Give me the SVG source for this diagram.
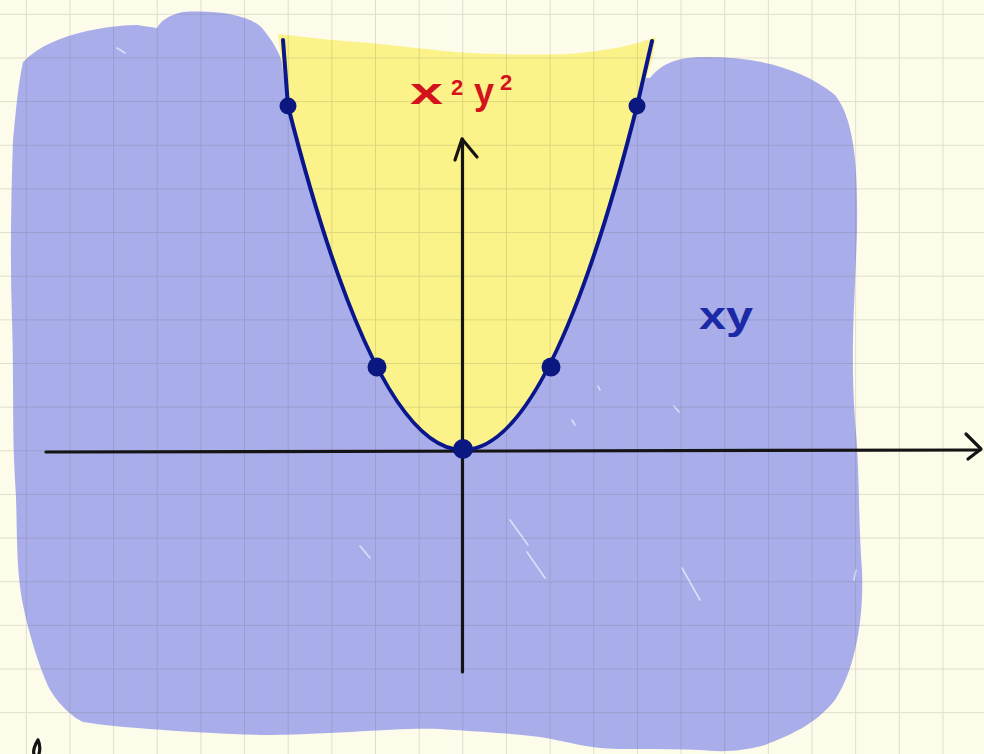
<svg xmlns="http://www.w3.org/2000/svg" width="984" height="754" viewBox="0 0 984 754">
<style>
.axis{fill:none;stroke:#141414;stroke-width:3.2;stroke-linecap:round;stroke-linejoin:round}
.curve{fill:none;stroke:#0a168c;stroke-width:4;stroke-linecap:round;stroke-linejoin:round}
.dot{fill:#0a1880}
.scratch{fill:none;stroke:#e9ebfb;stroke-width:1.6;stroke-linecap:round;opacity:0.8}
.hand{font-family:"Liberation Sans","DejaVu Sans",sans-serif;font-weight:bold}
.red{fill:#d4121c}
</style>
<defs>
<pattern id="grid" patternUnits="userSpaceOnUse" x="25.8" y="13.8" width="43.65" height="43.65">
<path d="M0,0 V43.65 M0,0 H43.65" fill="none" stroke="#4a4a3a" stroke-opacity="0.17" stroke-width="2"/>
</pattern>
</defs>
<rect width="984" height="754" fill="#fdfbea"/>
<g id="region-xy">
<path fill="#a9aeea" d="M23,62 C40,45 60,38 83,32 C100,28 120,25 137,25 L157,28 C160,22 168,15 183,12 C215,10 248,14 262,28 C272,40 278,50 282,62 L650,78 C660,66 672,58 700,57 C750,56 800,66 835,95 C855,120 858,170 857,230 C855,300 850,350 855,420 C860,470 858,520 862,570 C864,620 855,670 835,700 C815,725 790,735 765,745 C740,752 720,752 700,750 C660,748 620,750 600,748 C580,746 565,741 540,737 C510,733 480,732 440,729 C400,727 330,735 260,735 C200,733 120,728 83,722 C70,716 55,700 48,686 C40,667 30,640 22,600 C15,560 18,520 15,480 C12,430 14,380 12,320 C10,260 11,200 13,140 C16,110 18,85 23,62 Z"/>
<path class="scratch" d="M117,48 L125,53 M360,546 L370,558 M510,520 L528,545 M527,552 L545,578 M682,568 L700,600 M674,406 L679,412 M598,386 L600,390 M572,420 L575,425 M856,570 L854,580"/>
</g>
<g id="region-x2y2">
<path fill="#fbf389" d="M278,34 C310,38 340,41 370,43 C410,47 440,51 470,53 C520,55 560,55 580,53 C610,50 635,45 656,37 L652,60 L637,106 Q550,450 463,450 Q375.5,450 288,106 L280,50 Z"/>
</g>
<rect width="984" height="754" fill="url(#grid)"/>
<g id="axes">
<path class="axis" d="M46,452 L980,450"/>
<path class="axis" d="M966,434 L981,449 L968,459"/>
<path class="axis" d="M462.5,672 L462.5,139"/>
<path class="axis" d="M455,160 L462,139 L477,157"/>
</g>
<g id="parabola">
<path class="curve" d="M283,40 L288,106 Q375.5,450 463,450 Q550,450 637,106 L652,41"/>
</g>
<g id="points">
<circle class="dot" cx="288" cy="106" r="8.5"/>
<circle class="dot" cx="377" cy="367" r="9.5"/>
<circle class="dot" cx="551" cy="367" r="9.5"/>
<circle class="dot" cx="637" cy="106" r="8.5"/>
<circle class="dot" cx="463" cy="449" r="10"/>
</g>
<g id="labels">
<text class="hand red" x="410" y="104" font-size="36" textLength="33" lengthAdjust="spacingAndGlyphs">x</text>
<text class="hand red" x="451" y="95" font-size="22">2</text>
<text class="hand red" x="474" y="104" font-size="36">y</text>
<text class="hand red" x="500" y="90" font-size="22">2</text>
<text class="hand" x="699" y="329" fill="#1a2aa6" font-size="38" textLength="54" lengthAdjust="spacingAndGlyphs">xy</text>
</g>
<path class="axis" d="M38,740 C34,746 33,752 34,754 M38,740 C40,744 40,750 39,754" stroke-width="2.6"/>
</svg>
